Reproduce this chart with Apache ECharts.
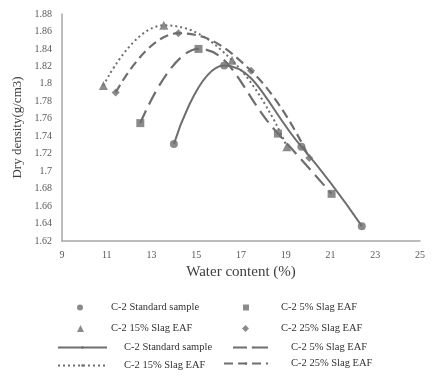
<!DOCTYPE html>
<html>
<head>
<meta charset="utf-8">
<script src="https://cdn.jsdelivr.net/npm/echarts@6/dist/echarts.min.js"></script>
<style>
  html, body { margin: 0; background: #fff; }
  #chart { width: 442px; height: 376px; }
</style>
</head>
<body>
<div id="chart"></div>
<script>
// data: [water content %, dry density g/cm3]
const seriesNames = ['C-2 Standard sample', 'C-2 5% Slag EAF', 'C-2 15% Slag EAF', 'C-2 25% Slag EAF']
const standardData = [[14.0, 1.731], [16.25, 1.821], [19.7, 1.728], [22.4, 1.637]]
const slag5Data = [[12.5, 1.755], [15.1, 1.840], [18.65, 1.743], [21.05, 1.674]]
const slag15Data = [[10.85, 1.798], [13.55, 1.867], [16.6, 1.827], [19.05, 1.728]]
const slag25Data = [[11.4, 1.790], [14.2, 1.858], [17.45, 1.815], [20.05, 1.715]]
const xTickValues = [9, 11, 13, 15, 17, 19, 21, 23, 25]

const allData = [standardData, slag5Data, slag15Data, slag25Data]
const symbols = ['circle', 'rect', 'triangle', 'diamond']
const symbolSizes = [8, 8, 9, 8]
const dashes = ['solid', [14, 7], [2, 3], [9, 5]]
const lineWidths = [2, 2.2, 2, 2.2]
const grey = '#6e6e6e'
const serif = 'Liberation Serif'
const TAG = ' (trend)'

const chart = echarts.init(document.getElementById('chart'))

const series = []
allData.forEach((d, i) => {
  series.push({
    name: seriesNames[i] + TAG,
    type: 'line',
    data: d,
    smooth: 0.45,
    symbol: 'none',
    color: grey,
    lineStyle: { color: grey, width: lineWidths[i], type: dashes[i] },
    z: 2
  })
})
allData.forEach((d, i) => {
  series.push({
    name: seriesNames[i],
    type: 'scatter',
    data: d,
    symbol: symbols[i],
    symbolSize: symbolSizes[i],
    color: grey,
    itemStyle: { color: grey },
    z: 3
  })
})

// one legend per cell so each can be placed like the original
function legendCell(name, left, top, w, h, padLeft) {
  return {
    data: [name],
    left: left,
    top: top,
    padding: 0,
    itemWidth: w,
    itemHeight: h,
    selectedMode: false,
    formatter: n => n.replace(TAG, ''),
    textStyle: { fontFamily: serif, fontSize: 10.5, color: '#333', padding: [0, 0, 0, padLeft] }
  }
}

chart.setOption({
  animation: false,
  grid: { left: 62, right: 22, top: 14, bottom: 135 },
  xAxis: {
    type: 'value',
    min: 9,
    max: 25,
    name: 'Water content (%)',
    nameLocation: 'middle',
    nameGap: 24,
    nameTextStyle: { fontFamily: serif, fontSize: 15, color: '#404040' },
    axisLine: { lineStyle: { color: '#a6a6a6', width: 1.5 } },
    axisTick: { show: false },
    splitLine: { show: false },
    axisLabel: { customValues: xTickValues, fontFamily: serif, fontSize: 10, color: '#595959', margin: 9 }
  },
  yAxis: {
    type: 'value',
    min: 1.62,
    max: 1.88,
    interval: 0.02,
    name: 'Dry density(g/cm3)',
    nameLocation: 'middle',
    nameGap: 34,
    nameRotate: 90,
    nameTextStyle: { fontFamily: serif, fontSize: 13, color: '#404040' },
    axisLine: { show: true, lineStyle: { color: '#a6a6a6', width: 1.5 } },
    axisTick: { show: false },
    splitLine: { show: false },
    axisLabel: { fontFamily: serif, fontSize: 10, color: '#595959', margin: 10 }
  },
  legend: [
    legendCell(seriesNames[0], 77, 302, 6, 6, 23),
    legendCell(seriesNames[1], 243, 302, 6, 6, 27),
    legendCell(seriesNames[2], 77, 323, 7, 7, 22),
    legendCell(seriesNames[3], 242, 323, 7, 7, 27),
    legendCell(seriesNames[0] + TAG, 57, 342, 49, 3, 12),
    legendCell(seriesNames[1] + TAG, 232, 342, 40, 3, 13),
    legendCell(seriesNames[2] + TAG, 57, 360, 49, 3, 12),
    legendCell(seriesNames[3] + TAG, 223, 358, 44, 3, 18)
  ],
  series: series
})
</script>
</body>
</html>
